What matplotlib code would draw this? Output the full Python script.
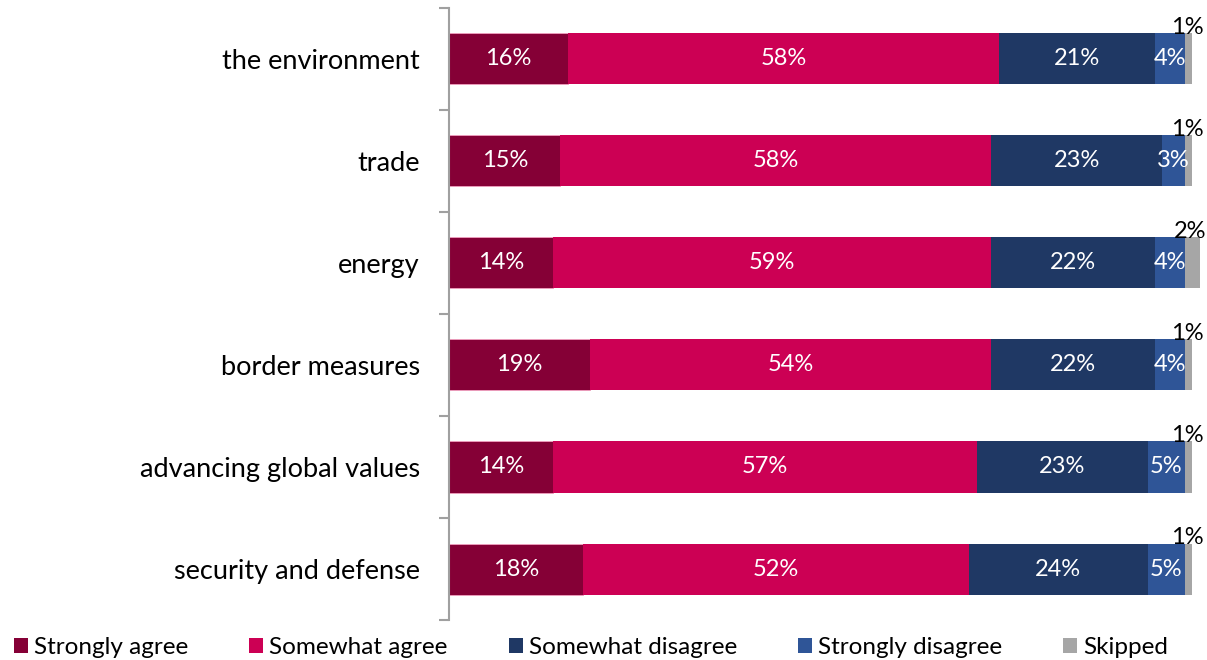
import numpy as np
import matplotlib
matplotlib.use('Agg')
import matplotlib.pyplot as plt
from matplotlib.patches import Patch

plt.rcParams['font.family'] = ['Lato', 'DejaVu Sans']

categories = ['the environment', 'trade', 'energy', 'border measures',
              'advancing global values', 'security and defense']
series = ['Strongly agree', 'Somewhat agree', 'Somewhat disagree',
          'Strongly disagree', 'Skipped']
strongly_agree = [16, 15, 14, 19, 14, 18]
somewhat_agree = [58, 58, 59, 54, 57, 52]
somewhat_disagree = [21, 23, 22, 22, 23, 24]
strongly_disagree = [4, 3, 4, 4, 5, 5]
skipped = [1, 1, 2, 1, 1, 1]
colors = ['#850036', '#CC0054', '#1F3864', '#2F5597', '#A6A6A6']

data = [strongly_agree, somewhat_agree, somewhat_disagree, strongly_disagree, skipped]

fig = plt.figure(figsize=(12.07, 6.6), dpi=100)
ax = fig.add_axes([0.372, 0.0606, 0.6218, 0.9273])

y = np.arange(len(categories))
left = np.zeros(len(categories))
for vals, name, col in zip(data, series, colors):
    vals = np.array(vals, dtype=float)
    ax.barh(y, vals, left=left, height=0.5, color=col, label=name,
            edgecolor='#f2a0c0' if name == 'Strongly agree' else 'none', linewidth=0.6)
    for yi, l, v in zip(y, left, vals):
        if name == 'Skipped':
            # small slice: put the label above the bar end
            ax.text(l + v / 2 - 0.2, yi - 0.245, f'{v:.0f}%', ha='center', va='baseline',
                    fontsize=17, color='black')
        else:
            ax.text(l + v / 2, yi, f'{v:.0f}%', ha='center', va='center',
                    fontsize=17, color='white')
    left += vals

ax.set_xlim(0, 101)
ax.set_ylim(len(categories) - 0.5, -0.5)
ax.set_yticks(y)
ax.set_yticklabels(categories, fontsize=19.5)
ax.set_yticks(np.arange(-0.5, len(categories)), minor=True)
ax.tick_params(axis='y', which='major', length=0, pad=21)
ax.tick_params(axis='y', which='minor', length=7, width=1.5, color='#A0A0A0')
ax.set_xticks([])
for s in ['top', 'right', 'bottom']:
    ax.spines[s].set_visible(False)
ax.spines['left'].set_color('#A0A0A0')
ax.spines['left'].set_linewidth(1.5)

handles = [Patch(facecolor=c, edgecolor='none') for c in colors]
fig.legend(handles, series, loc='center left', bbox_to_anchor=(0.0116, 0.019), ncol=5,
           frameon=False, fontsize=17.5, handlelength=0.58, handleheight=0.58,
           handletextpad=0.25, columnspacing=2.5, borderaxespad=0, borderpad=0)

fig.savefig('out.png', dpi=100)
plt.close(fig)
